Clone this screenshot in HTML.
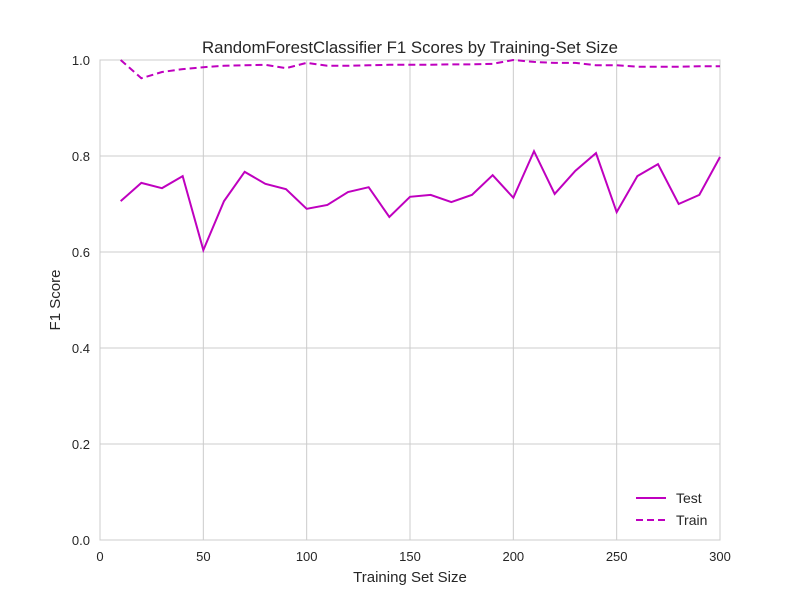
<!DOCTYPE html>
<html><head><meta charset="utf-8"><style>
body{margin:0;background:#fff;}
svg text{font-family:"Liberation Sans",sans-serif;fill:#262626;}
</style></head><body>
<svg id="chart" width="800" height="600"></svg>
<script>
const xs=[10,20,30,40,50,60,70,80,90,100,110,120,130,140,150,160,170,180,190,200,210,220,230,240,250,260,270,280,290,300];
const testVals=[0.706,0.744,0.733,0.758,0.604,0.706,0.767,0.742,0.731,0.690,0.698,0.725,0.735,0.673,0.715,0.719,0.704,0.719,0.760,0.713,0.810,0.721,0.769,0.806,0.683,0.758,0.783,0.700,0.719,0.798];
const trainVals=[1.0,0.962,0.975,0.981,0.985,0.988,0.989,0.990,0.983,0.994,0.988,0.988,0.989,0.990,0.990,0.990,0.991,0.991,0.992,1.0,0.996,0.994,0.994,0.989,0.989,0.986,0.986,0.986,0.987,0.987];
const xTicks=[0,50,100,150,200,250,300];
const yTicks=[0.0,0.2,0.4,0.6,0.8,1.0];
const L=100,R=720,T=60,B=540;
const sx=v=>L+(v/300)*(R-L), sy=v=>B-v*(B-T);
const svg=document.getElementById('chart');
const NS='http://www.w3.org/2000/svg';
function mk(tag,attrs,name,txt){const e=document.createElementNS(NS,tag);for(const k in attrs)e.setAttribute(k,attrs[k]);


if(txt!==undefined)e.textContent=txt;svg.appendChild(e);return e;}
mk('rect',{x:L,y:T,width:R-L,height:B-T,fill:'#fff'},'plot-area');
xTicks.forEach(t=>{mk('line',{x1:sx(t),x2:sx(t),y1:T,y2:B,stroke:'#cccccc','stroke-width':1},'x-gridline');
mk('text',{x:sx(t),y:561,'font-size':13,'text-anchor':'middle'},'x-tick-label',t);});
yTicks.forEach(t=>{mk('line',{x1:L,x2:R,y1:sy(t),y2:sy(t),stroke:'#cccccc','stroke-width':1},'y-gridline');
mk('text',{x:90,y:sy(t)+5,'font-size':13,'text-anchor':'end'},'y-tick-label',t.toFixed(1));});
mk('rect',{x:L,y:T,width:R-L,height:B-T,fill:'none',stroke:'#cccccc','stroke-width':1},'plot-border');
mk('polyline',{points:xs.map((x,i)=>sx(x)+','+sy(testVals[i])).join(' '),fill:'none',stroke:'#bf00bf','stroke-width':2},'test-line');
mk('polyline',{points:xs.map((x,i)=>sx(x)+','+sy(trainVals[i])).join(' '),fill:'none',stroke:'#bf00bf','stroke-width':2,'stroke-dasharray':'7,4'},'train-line');
mk('text',{x:410,y:53,'font-size':16.8,'text-anchor':'middle'},'chart-title','RandomForestClassifier F1 Scores by Training-Set Size');
mk('text',{x:410,y:582,'font-size':15,'text-anchor':'middle'},'x-axis-title','Training Set Size');
mk('text',{x:60,y:300,'font-size':15,'text-anchor':'middle',transform:'rotate(-90 60 300)'},'y-axis-title','F1 Score');
mk('line',{x1:636,x2:666,y1:498,y2:498,stroke:'#bf00bf','stroke-width':2},'legend-test-swatch');
mk('text',{x:676,y:503,'font-size':14},'legend-test-label','Test');
mk('line',{x1:636,x2:666,y1:520,y2:520,stroke:'#bf00bf','stroke-width':2,'stroke-dasharray':'7,4'},'legend-train-swatch');
mk('text',{x:676,y:525,'font-size':14},'legend-train-label','Train');
</script>
</body></html>
